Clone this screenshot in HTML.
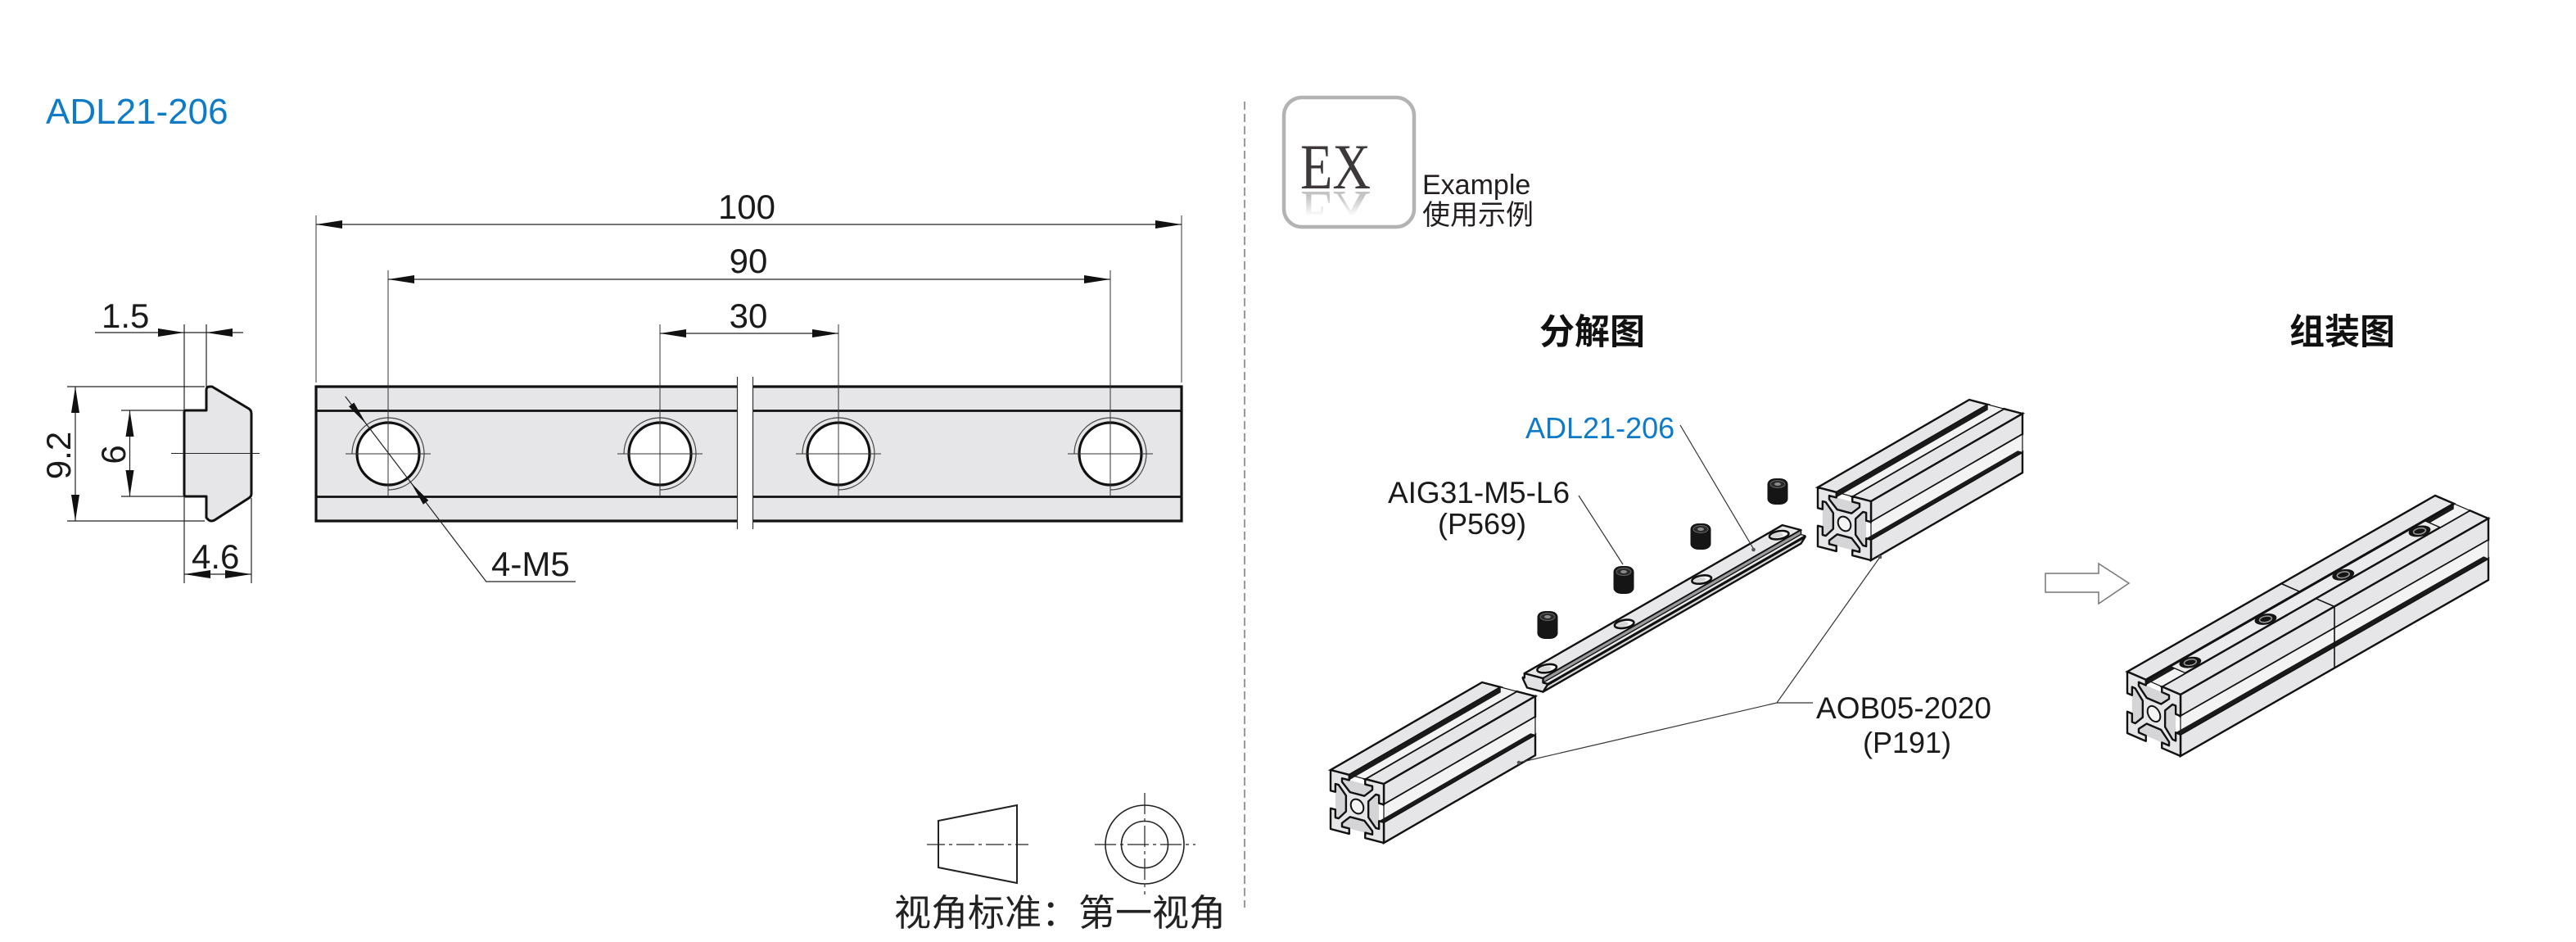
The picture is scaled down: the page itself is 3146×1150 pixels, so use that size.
<!DOCTYPE html>
<html>
<head>
<meta charset="utf-8">
<style>
html,body{margin:0;padding:0;background:#fff;}
body{width:3146px;height:1145px;overflow:hidden;}
svg *{vector-effect:non-scaling-stroke;}
text{font-family:"Liberation Sans","Noto Sans CJK SC",sans-serif;}
text.serif{font-family:"Liberation Serif","DejaVu Serif",serif;}
</style>
</head>
<body>
<svg width="3146" height="1145" viewBox="0 0 3146 1145" xmlns="http://www.w3.org/2000/svg">
<defs>
  <clipPath id="refclip"><rect x="1575" y="233" width="140" height="30"/></clipPath>
  <linearGradient id="fadeg" x1="0" y1="0" x2="0" y2="1">
    <stop offset="0" stop-color="#fff" stop-opacity="0"/>
    <stop offset="1" stop-color="#fff" stop-opacity="1"/>
  </linearGradient>
</defs>
<rect x="0" y="0" width="3146" height="1145" fill="#fff"/>

<!-- ================= LEFT SECTION ================= -->
<text x="56" y="151" font-size="44" fill="#0d7bc8">ADL21-206</text>

<!-- side view profile -->
<path d="M227,501 L252,501 L252,476 Q252,472 256,472 L259,472 L304,499 Q307,501 307,505 L307,603 Q307,606 304,608 L262,635 Q258,637 255,635 L252,632 L252,606 L227,606 Q225,606 225,604 L225,503 Q225,501 227,501 Z" fill="#e6e6e8" stroke="#111" stroke-width="3" stroke-linejoin="round"/>
<g stroke="#222" stroke-width="1.2" fill="none">
  <path d="M82,472 H250 M82,636 H250 M92,472 V636"/>
  <path d="M148,501 H225 M148,606 H225 M158.5,501 V606"/>
  <path d="M225,396 V501 M252,396 V472 M116,406 H297"/>
  <path d="M225,606 V712 M307,608 V712 M225,701 H307"/>
  <path d="M209,553.5 H317" stroke-width="1"/>
</g>
<g fill="#111">
  <polygon points="92,472 87,504 97,504"/>
  <polygon points="92,636 87,604 97,604"/>
  <polygon points="158.5,501 153.5,533 163.5,533"/>
  <polygon points="158.5,606 153.5,574 163.5,574"/>
  <polygon points="225,406 193,401 193,411"/>
  <polygon points="252,406 284,401 284,411"/>
  <polygon points="225,701 257,696 257,706"/>
  <polygon points="307,701 275,696 275,706"/>
</g>
<g font-size="42" fill="#1a1a1a">
  <text transform="translate(86,556) rotate(-90)" text-anchor="middle">9.2</text>
  <text transform="translate(153,555) rotate(-90)" text-anchor="middle">6</text>
  <text x="124" y="400">1.5</text>
  <text x="234" y="694">4.6</text>
</g>

<!-- main rail view -->
<rect x="386" y="472" width="1057" height="164" fill="#e6e6e8"/>
<g stroke="#111" fill="none">
  <rect x="386" y="472" width="1057" height="164" stroke-width="3.2"/>
  <path d="M386,501.5 H1443 M386,606.5 H1443" stroke-width="2.8"/>
</g>
<!-- break -->
<rect x="901" y="458" width="18" height="190" fill="#fff"/>
<path d="M900.5,460 V646 M919.5,460 V646" stroke="#333" stroke-width="1.2"/>

<!-- holes -->
<g>
  <circle cx="474" cy="554" r="38" fill="#fff" stroke="#111" stroke-width="3.2"/>
  <circle cx="806" cy="554" r="38" fill="#fff" stroke="#111" stroke-width="3.2"/>
  <circle cx="1024" cy="554" r="38" fill="#fff" stroke="#111" stroke-width="3.2"/>
  <circle cx="1356" cy="554" r="38" fill="#fff" stroke="#111" stroke-width="3.2"/>
</g>
<g stroke="#444" stroke-width="1.2" fill="none">
  <path d="M430,554 A44,44 0 1 1 474,598"/>
  <path d="M762,554 A44,44 0 1 1 806,598"/>
  <path d="M980,554 A44,44 0 1 1 1024,598"/>
  <path d="M1312,554 A44,44 0 1 1 1356,598"/>
</g>
<g stroke="#333" stroke-width="1" fill="none">
  <path d="M422,554 H526 M754,554 H858 M972,554 H1076 M1304,554 H1408"/>
  <path d="M474,330 V606 M1356,330 V606 M806,396 V606 M1024,396 V606"/>
  <path d="M386,263 V467 M1443,263 V467"/>
</g>
<g stroke="#222" stroke-width="1.2" fill="none">
  <path d="M386,274 H1443 M474,341 H1356 M806,407 H1024"/>
</g>
<g fill="#111">
  <polygon points="386,274 418,269 418,279"/>
  <polygon points="1443,274 1411,269 1411,279"/>
  <polygon points="474,341 506,336 506,346"/>
  <polygon points="1356,341 1324,336 1324,346"/>
  <polygon points="806,407 838,402 838,412"/>
  <polygon points="1024,407 992,402 992,412"/>
</g>
<g font-size="42" fill="#1a1a1a" text-anchor="middle">
  <text x="912" y="267">100</text>
  <text x="914" y="333">90</text>
  <text x="914" y="400">30</text>
</g>
<!-- 4-M5 leader -->
<path d="M421.7,484 L593.8,710 H703" stroke="#222" stroke-width="1.2" fill="none"/>
<polygon points="447.4,517.8 432.4,491.5 426.0,496.3" fill="#111"/>
<polygon points="501.9,589.4 523.3,610.9 516.9,615.7" fill="#111"/>
<text x="600" y="703" font-size="42" fill="#1a1a1a">4-M5</text>

<!-- projection symbol -->
<polygon points="1146,1002 1242,983 1242,1078 1146,1059" fill="none" stroke="#222" stroke-width="2"/>
<path d="M1132,1031 H1256" stroke="#222" stroke-width="1.2" stroke-dasharray="22 5 4 5"/>
<circle cx="1398" cy="1031" r="48" fill="none" stroke="#222" stroke-width="1.6"/>
<circle cx="1398" cy="1031" r="28.5" fill="none" stroke="#222" stroke-width="1.6"/>
<path d="M1337,1031 H1460 M1398,968 V1092" stroke="#222" stroke-width="1.2" stroke-dasharray="26 5 4 5"/>
<text x="1092" y="1130" font-size="45" fill="#222">视角标准：第一视角</text>

<!-- separator -->
<path d="M1520,124 V1108" stroke="#9a9a9a" stroke-width="2" stroke-dasharray="10 5"/>

<!-- ================= RIGHT SECTION ================= -->
<!-- EX icon -->
<rect x="1568" y="119" width="159" height="158" rx="22" ry="22" fill="#fff" stroke="#b3b3b3" stroke-width="4.5"/>
<g clip-path="url(#refclip)">
  <text class="serif" x="1588" y="230" transform="translate(0,464) scale(1,-1)" font-size="78" fill="#c4c4c4" textLength="86" lengthAdjust="spacingAndGlyphs">EX</text>
</g>
<rect x="1575" y="240" width="140" height="24" fill="url(#fadeg)"/>
<text class="serif" x="1588" y="230" font-size="78" fill="#3d3839" textLength="86" lengthAdjust="spacingAndGlyphs">EX</text>
<text x="1737" y="237" font-size="34" fill="#231f20">Example</text>
<text x="1737" y="274" font-size="34" fill="#231f20">使用示例</text>

<text x="1880" y="420" font-size="43" font-weight="bold" fill="#111">分解图</text>
<text x="2796" y="420" font-size="43" font-weight="bold" fill="#111">组装图</text>

<!-- exploded left profile -->
<g id="profE">
  <g transform="matrix(3.25,0.85,185,-107,1625,940)">
    <rect x="0" y="0" width="7" height="1" fill="#e6e6e8" stroke="#111" stroke-width="2.4"/>
    <rect x="13" y="0" width="7" height="1" fill="#e6e6e8" stroke="#111" stroke-width="2.4"/>
    <rect x="7" y="0" width="6" height="1" fill="#f3f3f3" stroke="#111" stroke-width="1.2"/>
  </g>
  <g transform="matrix(0,3.6,185,-107,1647.75,945.95)">
    <rect x="0" y="0" width="1.8" height="1" fill="#1a1a1a"/>
  </g>
  <g transform="matrix(0,3.6,185,-107,1690,957)">
    <rect x="0" y="0" width="7" height="1" fill="#e6e6e8" stroke="#111" stroke-width="2.4"/>
    <rect x="13" y="0" width="7" height="1" fill="#e6e6e8" stroke="#111" stroke-width="2.4"/>
    <rect x="7" y="0" width="6" height="1" fill="#f3f3f3" stroke="#111" stroke-width="1.2"/>
  </g>
  <g transform="matrix(3.25,0.85,185,-107,1625,986.8)">
    <rect x="18.2" y="0" width="1.8" height="1" fill="#1a1a1a"/>
  </g>
  <g transform="matrix(3.25,0.85,0,3.6,1625,940)">
    <rect x="1.8" y="1.8" width="16.4" height="16.4" fill="#d5d5d7"/>
    <path d="M0,0 L7,0 7,1.8 4.3,1.8 4.3,3 7.3,5.8 12.7,5.8 15.7,3 15.7,1.8 13,1.8 13,0 20,0 20,7 18.2,7 18.2,4.3 17,4.3 14.2,7.3 14.2,12.7 17,15.7 18.2,15.7 18.2,13 20,13 20,20 13,20 13,18.2 15.7,18.2 15.7,17 12.7,14.2 7.3,14.2 4.3,17 4.3,18.2 7,18.2 7,20 0,20 0,13 1.8,13 1.8,15.7 3,15.7 5.8,12.7 5.8,7.3 3,4.3 1.8,4.3 1.8,7 0,7 Z" fill="#e6e6e8" stroke="#111" stroke-width="2.4" stroke-linejoin="round"/>
    <circle cx="10" cy="10" r="2.4" fill="#f4f4f4" stroke="#111" stroke-width="2"/>
  </g>
</g>
<use href="#profE" transform="translate(595,-345)"/>

<!-- exploded rail -->
<g stroke="#111" stroke-linejoin="round">
  <polygon points="1861.8,822.1 1884.5,828.1 2199.5,647.1 2176.8,641.1" fill="#e8e8ea" stroke-width="2.4"/>
  <polygon points="1884.5,828.1 1884.5,833.5 2199.5,652.5 2199.5,647.1" fill="#9a9a9c" stroke-width="1.4"/>
  <polygon points="1884.5,833.5 1889.7,834.8 2204.7,653.8 2199.5,652.5" fill="#e8e8ea" stroke-width="1.2"/>
  <polygon points="1889.7,834.8 1889.7,836.3 2204.7,655.3 2204.7,653.8" fill="#888" stroke-width="1.2"/>
  <polygon points="1889.7,836.3 1884.5,844.6 2199.5,663.6 2204.7,655.3" fill="#dadadc" stroke-width="2.4"/>
  <polygon points="1861.8,822.1 1884.5,828.1 1884.5,833.5 1889.7,834.8 1889.7,836.3 1884.5,844.6 1865.0,839.5 1859.8,828.4 1859.8,827.0 1861.8,827.5" fill="#e2e2e4" stroke-width="2.4"/>
</g>
<g transform="matrix(3.25,0.85,3.15,-1.81,1859.8,821.6)">
  <circle cx="4.2" cy="5" r="2.6" fill="#fff" stroke="#111" stroke-width="2.6"/>
  <circle cx="4.2" cy="35" r="2.6" fill="#fff" stroke="#111" stroke-width="2.6"/>
  <circle cx="4.2" cy="65" r="2.6" fill="#fff" stroke="#111" stroke-width="2.6"/>
  <circle cx="4.2" cy="95" r="2.6" fill="#fff" stroke="#111" stroke-width="2.6"/>
  <circle cx="3.9" cy="4.6" r="1.6" fill="#d6d6d6"/>
  <circle cx="3.9" cy="34.6" r="1.6" fill="#d6d6d6"/>
  <circle cx="3.9" cy="64.6" r="1.6" fill="#d6d6d6"/>
  <circle cx="3.9" cy="94.6" r="1.6" fill="#d6d6d6"/>
</g>

<!-- screws -->
<g>
  <rect x="1877.5" y="746" width="25" height="34" rx="10" ry="7" fill="#151515"/>
  <ellipse cx="1890" cy="753" rx="9" ry="4.5" fill="#2a2a2a" stroke="#666" stroke-width="1"/>
  <ellipse cx="1890" cy="753" rx="4" ry="2" fill="#8a8a8a"/>
  <rect x="1970.5" y="691" width="25" height="34" rx="10" ry="7" fill="#151515"/>
  <ellipse cx="1983" cy="698" rx="9" ry="4.5" fill="#2a2a2a" stroke="#666" stroke-width="1"/>
  <ellipse cx="1983" cy="698" rx="4" ry="2" fill="#8a8a8a"/>
  <rect x="2064.5" y="639" width="25" height="32" rx="10" ry="7" fill="#151515"/>
  <ellipse cx="2077" cy="646" rx="9" ry="4.5" fill="#2a2a2a" stroke="#666" stroke-width="1"/>
  <ellipse cx="2077" cy="646" rx="4" ry="2" fill="#8a8a8a"/>
  <rect x="2158.5" y="584" width="25" height="32" rx="10" ry="7" fill="#151515"/>
  <ellipse cx="2171" cy="591" rx="9" ry="4.5" fill="#2a2a2a" stroke="#666" stroke-width="1"/>
  <ellipse cx="2171" cy="591" rx="4" ry="2" fill="#8a8a8a"/>
</g>

<!-- leaders -->
<g stroke="#333" stroke-width="1.2" fill="none">
  <path d="M2052,519 L2141.5,670"/>
  <path d="M1928,605 L1982,689"/>
  <path d="M1855,931 L2170,858 L2296,680 M2170,858 H2214"/>
</g>
<g fill="#555">
  <circle cx="2141.5" cy="671" r="2.3"/>
  <circle cx="1855" cy="931" r="2.3"/>
  <circle cx="2296" cy="680" r="2.3"/>
</g>
<text x="1863" y="535" font-size="36" fill="#0d7bc8">ADL21-206</text>
<g fill="#1a1a1a">
  <text x="1806" y="614" font-size="37" text-anchor="middle">AIG31-M5-L6</text>
  <text x="1810" y="652" font-size="36" text-anchor="middle">(P569)</text>
  <text x="2325" y="877" font-size="37" text-anchor="middle">AOB05-2020</text>
  <text x="2329" y="919" font-size="36" text-anchor="middle">(P191)</text>
</g>

<!-- arrow -->
<polygon points="2498,700 2563,700 2563,688 2600,712 2563,737 2563,723 2498,723" fill="#fff" stroke="#777" stroke-width="1.5"/>

<!-- assembled profile -->
<g>
  <g transform="matrix(3.25,1.4,376,-215,2598,820)">
    <rect x="0" y="0" width="7" height="1" fill="#e6e6e8" stroke="#111" stroke-width="2.4"/>
    <rect x="13" y="0" width="7" height="1" fill="#e6e6e8" stroke="#111" stroke-width="2.4"/>
    <rect x="7" y="0" width="6" height="1" fill="#f3f3f3" stroke="#111" stroke-width="1.2"/>
  </g>
  <g transform="matrix(0,3.75,376,-215,2620.75,829.8)">
    <rect x="0" y="0" width="1.8" height="1" fill="#1a1a1a"/>
  </g>
  <g transform="matrix(3.25,1.4,376,-215,2598,820)">
    <rect x="7.2" y="0.077" width="5.6" height="0.827" fill="#ebebed" stroke="#111" stroke-width="1.4"/>
    <line x1="7.1" y1="0" x2="7.1" y2="1" stroke="#111" stroke-width="3"/>
    <line x1="0" y1="0.5" x2="7" y2="0.5" stroke="#111" stroke-width="1.6"/>
    <line x1="13" y1="0.5" x2="20" y2="0.5" stroke="#111" stroke-width="1.6"/>
  </g>
  <g transform="matrix(3.25,1.4,3.76,-2.15,2598,820)">
    <circle cx="10" cy="11.8" r="2.7" fill="#151515"/>
    <circle cx="10" cy="11.8" r="1.5" fill="none" stroke="#9a9a9a" stroke-width="1.5"/>
    <circle cx="10" cy="36.3" r="2.7" fill="#151515"/>
    <circle cx="10" cy="36.3" r="1.5" fill="none" stroke="#9a9a9a" stroke-width="1.5"/>
    <circle cx="10" cy="61.5" r="2.7" fill="#151515"/>
    <circle cx="10" cy="61.5" r="1.5" fill="none" stroke="#9a9a9a" stroke-width="1.5"/>
    <circle cx="10" cy="86.3" r="2.7" fill="#151515"/>
    <circle cx="10" cy="86.3" r="1.5" fill="none" stroke="#9a9a9a" stroke-width="1.5"/>
  </g>
  <g transform="matrix(0,3.75,376,-215,2663,848)">
    <rect x="0" y="0" width="7" height="1" fill="#e6e6e8" stroke="#111" stroke-width="2.4"/>
    <rect x="13" y="0" width="7" height="1" fill="#e6e6e8" stroke="#111" stroke-width="2.4"/>
    <rect x="7" y="0" width="6" height="1" fill="#f3f3f3" stroke="#111" stroke-width="1.2"/>
  </g>
  <g transform="matrix(3.25,1.4,376,-215,2598,868.75)">
    <rect x="18.2" y="0" width="1.8" height="1" fill="#1a1a1a"/>
  </g>
  <g transform="matrix(0,3.75,376,-215,2663,848)">
    <line x1="0" y1="0.5" x2="20" y2="0.5" stroke="#111" stroke-width="1.6"/>
  </g>
  <g transform="matrix(3.25,1.4,0,3.75,2598,820)">
    <rect x="1.8" y="1.8" width="16.4" height="16.4" fill="#d5d5d7"/>
    <path d="M0,0 L7,0 7,1.8 4.3,1.8 4.3,3 7.3,5.8 12.7,5.8 15.7,3 15.7,1.8 13,1.8 13,0 20,0 20,7 18.2,7 18.2,4.3 17,4.3 14.2,7.3 14.2,12.7 17,15.7 18.2,15.7 18.2,13 20,13 20,20 13,20 13,18.2 15.7,18.2 15.7,17 12.7,14.2 7.3,14.2 4.3,17 4.3,18.2 7,18.2 7,20 0,20 0,13 1.8,13 1.8,15.7 3,15.7 5.8,12.7 5.8,7.3 3,4.3 1.8,4.3 1.8,7 0,7 Z" fill="#e6e6e8" stroke="#111" stroke-width="2.4" stroke-linejoin="round"/>
    <circle cx="10" cy="10" r="2.4" fill="#f4f4f4" stroke="#111" stroke-width="2"/>
  </g>
</g>
</svg>
</body>
</html>
